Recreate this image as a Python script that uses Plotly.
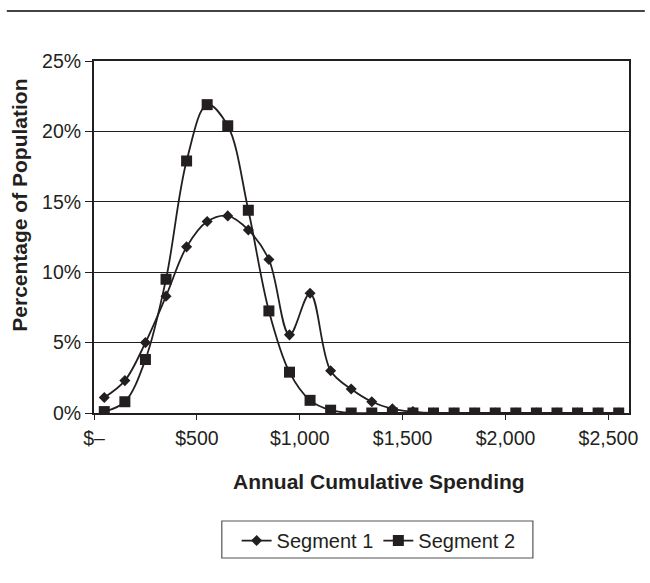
import plotly.graph_objects as go

# Annual spending bins (bin midpoints, dollars)
spending = [50, 150, 250, 350, 450, 550, 650, 750, 850, 950, 1050, 1150, 1250,
            1350, 1450, 1550, 1650, 1750, 1850, 1950, 2050, 2150, 2250, 2350,
            2450, 2550]

# Share of population in each bin (percent)
segment_1 = [1.1, 2.3, 5.0, 8.3, 11.8, 13.6, 14.0, 13.0, 10.9, 5.55, 8.5, 3.0,
             1.7, 0.8, 0.3, 0.1, 0.0, 0.0, 0.0, 0.0, 0.0, 0.0, 0.0, 0.0, 0.0, 0.0]
segment_2 = [0.1, 0.8, 3.8, 9.5, 17.9, 21.9, 20.4, 14.4, 7.25, 2.9, 0.9, 0.2,
             0.0, 0.0, 0.0, 0.0, 0.0, 0.0, 0.0, 0.0, 0.0, 0.0, 0.0, 0.0, 0.0, 0.0]

x_tickvals = [0, 500, 1000, 1500, 2000, 2500]
x_ticktext = ["$\u2013", "$500", "$1,000", "$1,500", "$2,000", "$2,500"]
y_tickvals = [0, 5, 10, 15, 20, 25]
y_ticktext = ["0%", "5%", "10%", "15%", "20%", "25%"]

FONT = "Liberation Sans, Arial, sans-serif"
INK = "#231f20"

# plot area in pixels: left 94, right 634, top 61, bottom 413
L, R, T, B = 94, 634, 61, 413


def px_x(p):
    return (p - L) / (R - L)


def px_y(p):
    return (B - p) / (B - T)


fig = go.Figure()
fig.add_trace(go.Scatter(
    x=spending, y=segment_1, name="Segment 1", mode="lines+markers",
    line=dict(color=INK, width=1.8, shape="spline", smoothing=1.0),
    marker=dict(symbol="diamond", size=8.5, color=INK),
))
fig.add_trace(go.Scatter(
    x=spending, y=segment_2, name="Segment 2", mode="lines+markers",
    line=dict(color=INK, width=1.8, shape="spline", smoothing=1.0),
    marker=dict(symbol="square", size=11, color=INK),
))

fig.update_layout(
    width=650, height=583,
    margin=dict(l=L, r=650 - R, t=T, b=583 - B),
    paper_bgcolor="white", plot_bgcolor="white",
    font=dict(family=FONT, size=19.5, color=INK),
    showlegend=True,
    legend=dict(
        orientation="h", x=0.532, xanchor="center", y=-0.307, yanchor="top",
        borderwidth=0, bgcolor="rgba(0,0,0,0)",
        font=dict(size=20, color=INK), itemwidth=30,
    ),
    xaxis=dict(
        range=[0, 2600], tickvals=x_tickvals, ticktext=x_ticktext,
        showgrid=False, zeroline=False,
        showline=True, linecolor=INK, linewidth=2, mirror=True,
        ticks="outside", ticklen=5, tickcolor=INK, tickwidth=1,
        ticklabelstandoff=2,
    ),
    yaxis=dict(
        range=[0, 25], tickvals=y_tickvals, ticktext=y_ticktext,
        showgrid=True, gridcolor=INK, gridwidth=1.2, zeroline=False,
        showline=True, linecolor=INK, linewidth=2, mirror=True,
        ticks="outside", ticklen=7, tickcolor=INK, tickwidth=1,
    ),
    annotations=[
        dict(text="<b>Annual Cumulative Spending</b>", xref="paper", yref="paper",
             x=px_x(382), y=px_y(481), xanchor="center", yanchor="middle",
             showarrow=False, font=dict(size=21, color=INK)),
        dict(text="<b>Percentage of Population</b>", xref="paper", yref="paper",
             x=px_x(18), y=px_y(205), xanchor="center", yanchor="middle",
             textangle=-90, showarrow=False, font=dict(size=21, color=INK)),
    ],
    shapes=[
        # rule across the top of the page
        dict(type="line", xref="paper", yref="paper",
             x0=px_x(6), x1=px_x(650), y0=px_y(11), y1=px_y(11),
             line=dict(color="#444", width=2)),
        # frame around the legend
        dict(type="rect", xref="paper", yref="paper",
             x0=px_x(223), x1=px_x(537), y0=px_y(521), y1=px_y(558),
             line=dict(color="#555", width=1.2), fillcolor="rgba(0,0,0,0)"),
    ],
)

fig.write_html("out.html")
